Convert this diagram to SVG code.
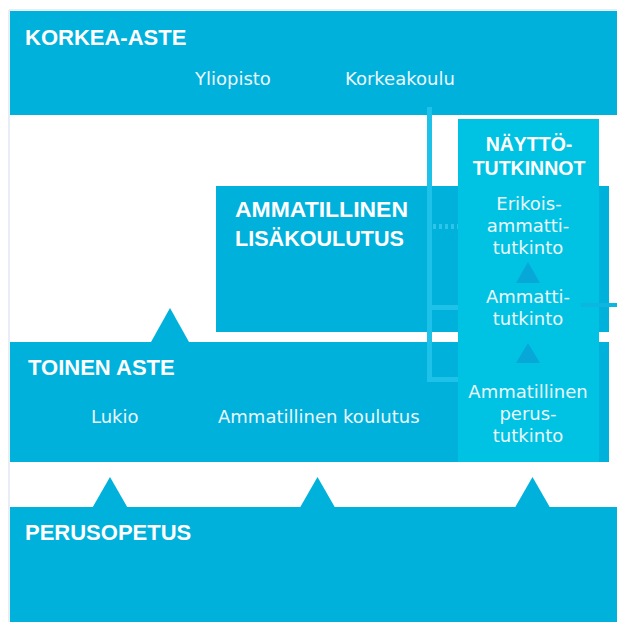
<svg xmlns="http://www.w3.org/2000/svg" width="617" height="622" viewBox="0 0 617 622">
<style>
.band{fill:#00b1dc}
.col{fill:#00c3e3}
.line{fill:#1ec2e8}
.tri{fill:#00b1dc}
.tri2{fill:#07a8d8}
.h{font-family:"Liberation Sans",Arial,sans-serif;font-weight:bold;font-size:22px;fill:#ffffff}
.hc{font-family:"Liberation Sans",Arial,sans-serif;font-weight:bold;font-size:19.5px;fill:#ffffff;text-anchor:middle}
.t{font-family:"DejaVu Sans",sans-serif;font-size:18px;fill:#eaf7fc}
.tc{font-family:"DejaVu Sans",sans-serif;font-size:18px;fill:#eaf7fc;text-anchor:middle}
</style>
<rect x="0" y="0" width="617" height="622" fill="#ffffff"/>
<line x1="9" y1="10" x2="617" y2="10" stroke="#dfe8f3" stroke-width="1.5"/>
<line x1="9" y1="10" x2="9" y2="622" stroke="#dfe8f3" stroke-width="1.5"/>

<g id="korkea-aste">
<rect class="band" x="10" y="11" width="607" height="104"/>
<text class="h" x="25" y="45">KORKEA-ASTE</text>
<text class="t" x="195" y="85">Yliopisto</text>
<text class="t" x="345" y="85">Korkeakoulu</text>
</g>

<g id="ammatillinen-lisakoulutus">
<rect class="band" x="216" y="186" width="393" height="146"/>
<text class="h" x="235" y="217" textLength="173" lengthAdjust="spacingAndGlyphs">AMMATILLINEN</text>
<text class="h" x="235" y="246" textLength="169" lengthAdjust="spacingAndGlyphs">LISÄKOULUTUS</text>
</g>

<g id="toinen-aste">
<rect class="band" x="10" y="342" width="599" height="120"/>
<text class="h" x="28" y="375">TOINEN ASTE</text>
<text class="t" x="91" y="423">Lukio</text>
<text class="t" x="218" y="423">Ammatillinen koulutus</text>
</g>

<g id="perusopetus">
<rect class="band" x="10" y="507" width="607" height="115"/>
<text class="h" x="25" y="540">PERUSOPETUS</text>
</g>

<g id="connectors">
<rect class="line" x="427" y="107" width="5" height="275"/>
<rect class="line" x="432" y="305" width="26" height="5"/>
<rect class="line" x="432" y="377" width="26" height="5"/>
<line x1="433" y1="226.5" x2="458" y2="226.5" stroke="#2cc6ea" stroke-width="5" stroke-dasharray="3 3"/>
<polygon class="tri" points="151,342 170,308 189,342"/>
<polygon class="tri" points="92.5,507.5 110,477 127.5,507.5"/>
<polygon class="tri" points="300,507.5 317.5,477 335,507.5"/>
<polygon class="tri" points="515,507.5 532.5,477 550,507.5"/>
</g>

<g id="nayttotutkinnot">
<rect class="col" x="458" y="119" width="141" height="343"/>
<text class="hc" x="529" y="151">NÄYTTÖ-</text>
<text class="hc" x="529" y="175">TUTKINNOT</text>
</g>

<g id="erikoisammattitutkinto">
<text class="tc" x="529" y="210">Erikois-</text>
<text class="tc" x="528" y="232">ammatti-</text>
<text class="tc" x="528" y="254">tutkinto</text>
</g>

<g id="ammattitutkinto">
<text class="tc" x="528" y="303">Ammatti-</text>
<text class="tc" x="528" y="325">tutkinto</text>
</g>

<g id="ammatillinen-perustutkinto">
<text class="tc" x="528" y="398">Ammatillinen</text>
<text class="tc" x="528" y="420">perus-</text>
<text class="tc" x="528" y="442">tutkinto</text>
</g>

<g id="column-connectors">
<polygon class="tri2" points="516,283 528,262 540,283"/>
<polygon class="tri2" points="516,363 528,343 540,363"/>
<rect x="581" y="303" width="36" height="4" fill="#0cb6e0"/>
</g>
</svg>
